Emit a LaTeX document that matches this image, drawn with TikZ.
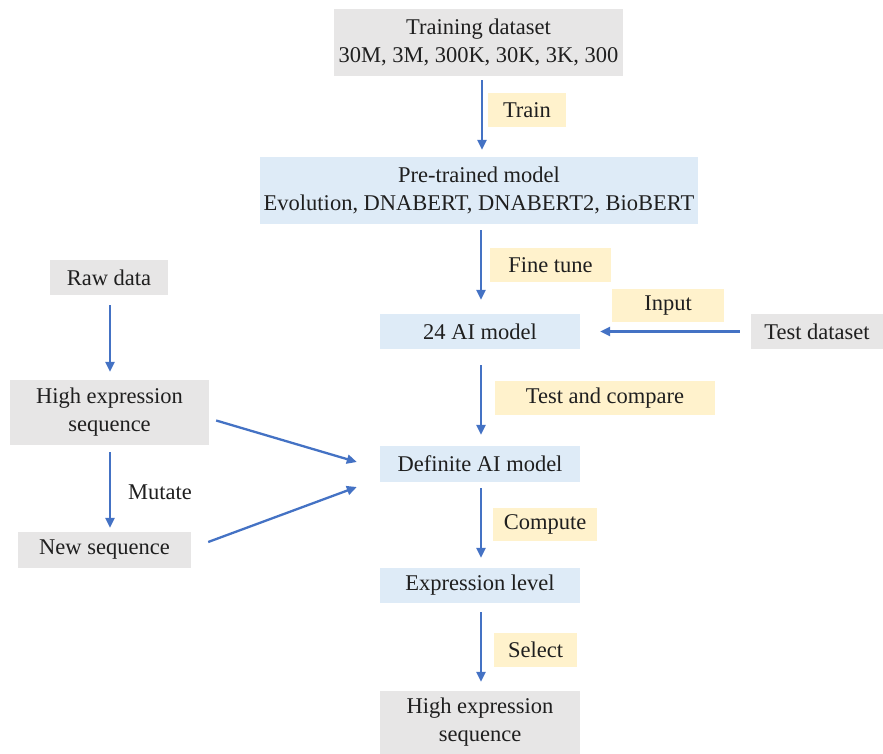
\documentclass[tikz,border=0pt]{standalone}
\usepackage{fontspec}
\setmainfont{Liberation Serif}
\usetikzlibrary{calc,arrows.meta}
\definecolor{gbox}{HTML}{E7E6E6}
\definecolor{bbox}{HTML}{DEEBF7}
\definecolor{ybox}{HTML}{FFF2CC}
\definecolor{arrc}{HTML}{4472C4}
\begin{document}
\begin{tikzpicture}[x=1pt,y=-1pt,
  every node/.style={font=\fontsize{22.5}{28}\selectfont, text=black!88, inner sep=0pt, align=center},
  gray box/.style={fill=gbox},
  blue box/.style={fill=bbox},
  lab box/.style={fill=ybox},
  arr/.style={draw=arrc, line width=2.3pt, -{Triangle[length=10pt,width=9pt]}}]
\useasboundingbox (0,0) rectangle (883,754);
% nodes
\node[gray box, minimum width=289, minimum height=67] (train) at (478.5,42.5) {Training dataset\\30M, 3M, 300K, 30K, 3K, 300};
\node[lab box, minimum width=78, minimum height=34] (ltrain) at (527,110) {Train};
\node[blue box, minimum width=438, minimum height=67] (pre) at (479,190.5) {Pre-trained model\\Evolution, DNABERT, DNABERT2, BioBERT};
\node[lab box, minimum width=121, minimum height=34] (lfine) at (550.5,265) {Fine tune};
\node[blue box, minimum width=200, minimum height=35] (ai24) at (480,331.5) {24 AI model};
\node[lab box, minimum width=112, minimum height=33] (linput) at (668,305.5) {Input};
\node[gray box, minimum width=132, minimum height=35] (test) at (817,331.5) {Test dataset};
\node[gray box, minimum width=118, minimum height=35] (raw) at (109,277.5) {Raw data};
\node[gray box, minimum width=199, minimum height=65] (hes) at (109.5,412.5) {High expression\\sequence};
\node (mut) at (160,492) {Mutate};
\node[gray box, minimum width=173, minimum height=36] (news) at (104.5,550) {New sequence};
\node[lab box, minimum width=220, minimum height=34] (ltest) at (605,398) {Test and compare};
\node[blue box, minimum width=200, minimum height=36] (def) at (480,464) {Definite AI model};
\node[lab box, minimum width=104, minimum height=33] (lcomp) at (545,524.5) {Compute};
\node[blue box, minimum width=200, minimum height=35] (expr) at (480,585.5) {Expression level};
\node[lab box, minimum width=83, minimum height=34] (lsel) at (535.5,650) {Select};
\node[gray box, minimum width=200, minimum height=63] (hes2) at (480,722.5) {High expression\\sequence};
% arrows
\draw[arr] ($(train.south)+(3.5,4)$) -- ($(pre.north)+(3,-7)$);
\draw[arr] ($(pre.south)+(2,6)$) -- ($(ai24.north)+(1,-14)$);
\draw[arr] ($(ai24.south)+(1,16)$) -- ($(def.north)+(1,-11)$);
\draw[arr] ($(def.south)+(1,6)$) -- ($(expr.north)+(1,-10)$);
\draw[arr] ($(expr.south)+(1,9)$) -- ($(hes2.north)+(1,-9)$);
\draw[arr] ($(test.west)+(-11,0)$) -- ($(ai24.east)+(20,0)$);
\draw[arr] ($(raw.south)+(1,10)$) -- ($(hes.north)+(0.5,-8)$);
\draw[arr] ($(hes.south)+(0.5,7)$) -- ($(news.north)+(5.5,-4)$);
\draw[arr] ($(hes.east)+(7,8)$) -- ($(def.west)+(-23,-2)$);
\draw[arr] ($(news.east)+(17,-8)$) -- ($(def.west)+(-23,23)$);
\end{tikzpicture}
\end{document}
